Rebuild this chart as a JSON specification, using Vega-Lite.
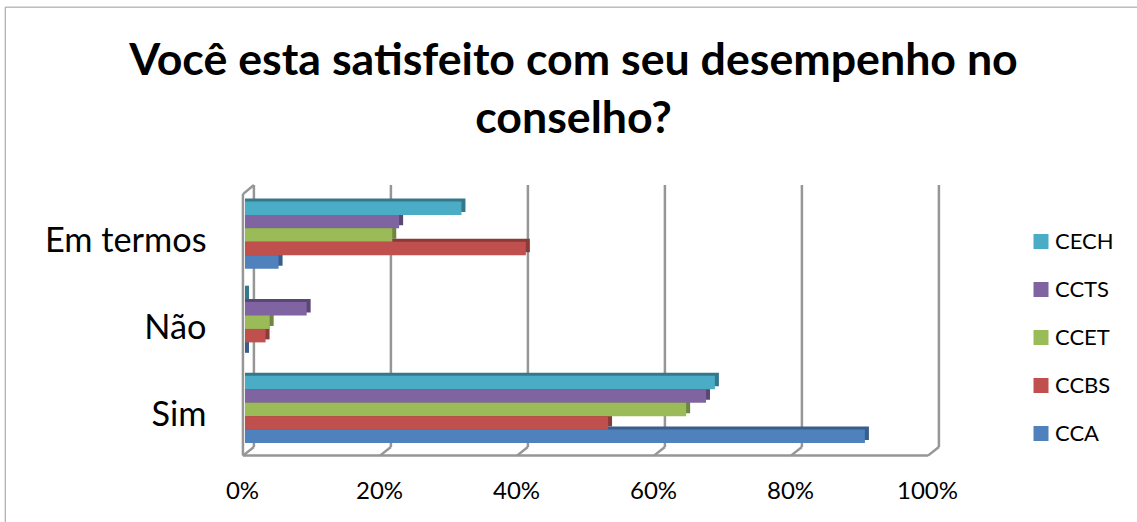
{"$schema":"https://vega.github.io/schema/vega-lite/v6.json","autosize":"none","width":685,"height":261.5,"padding":{"left":245,"top":191.5,"right":207,"bottom":69},"background":"white","config":{"view":{"stroke":null},"font":"Lato"},"title":{"text":["Você esta satisfeito com seu desempenho no","conselho?"],"font":"Lato","fontSize":44.7,"fontWeight":"bold","color":"black","anchor":"middle","frame":"group","dx":-14,"lineHeight":58,"offset":-136},"datasets":{"frame":[{"x":-35,"x2":-35,"y":-30,"y2":170.5,"k":"outer"},{"x":-35,"x2":130.5,"y":170.5,"y2":170.5,"k":"outer"},{"x":-0.3,"x2":-0.3,"y":-1,"y2":99,"k":"wall"},{"x":-0.3,"x2":99.7,"y":-1,"y2":-1,"k":"wall"},{"x":-0.3,"x2":1.3,"y":99,"y2":102.5,"k":"wall"},{"x":-0.3,"x2":1.3,"y":-1,"y2":2.3,"k":"wall"},{"x":19.7,"x2":21.3,"y":-1,"y2":2.3,"k":"wall"},{"x":39.7,"x2":41.3,"y":-1,"y2":2.3,"k":"wall"},{"x":59.7,"x2":61.3,"y":-1,"y2":2.3,"k":"wall"},{"x":79.7,"x2":81.3,"y":-1,"y2":2.3,"k":"wall"},{"x":99.7,"x2":101.3,"y":-1,"y2":2.3,"k":"wall"},{"x":1.3,"x2":1.3,"y":2.3,"y2":102.5,"k":"wall"},{"x":21.3,"x2":21.3,"y":2.3,"y2":102.5,"k":"wall"},{"x":41.3,"x2":41.3,"y":2.3,"y2":102.5,"k":"wall"},{"x":61.3,"x2":61.3,"y":2.3,"y2":102.5,"k":"wall"},{"x":81.3,"x2":81.3,"y":2.3,"y2":102.5,"k":"wall"},{"x":101.3,"x2":101.3,"y":2.3,"y2":102.5,"k":"wall"}],"bars":[{"resposta":"Em termos","centro":"CECH","valor":31.6},{"resposta":"Em termos","centro":"CCTS","valor":22.5},{"resposta":"Em termos","centro":"CCET","valor":21.5},{"resposta":"Em termos","centro":"CCBS","valor":41},{"resposta":"Em termos","centro":"CCA","valor":4.9},{"resposta":"Não","centro":"CECH","valor":0},{"resposta":"Não","centro":"CCTS","valor":9},{"resposta":"Não","centro":"CCET","valor":3.6},{"resposta":"Não","centro":"CCBS","valor":3},{"resposta":"Não","centro":"CCA","valor":0},{"resposta":"Sim","centro":"CECH","valor":68.6},{"resposta":"Sim","centro":"CCTS","valor":67.3},{"resposta":"Sim","centro":"CCET","valor":64.4},{"resposta":"Sim","centro":"CCBS","valor":53},{"resposta":"Sim","centro":"CCA","valor":90.5}]},"layer":[{"data":{"name":"frame"},"mark":{"type":"rule"},"encoding":{"x":{"field":"x","type":"quantitative","scale":{"domain":[0,100],"nice":false},"axis":{"values":[0,20,40,60,80,100],"labelExpr":"datum.value + '%'","grid":false,"domain":false,"ticks":false,"labelFlush":false,"labelFontSize":24,"labelColor":"black","labelFont":"Lato","labelPadding":26,"labelOffset":-3,"title":null}},"x2":{"field":"x2"},"y":{"field":"y","type":"quantitative","scale":{"domain":[0,100],"nice":false},"axis":null},"y2":{"field":"y2"},"color":{"field":"k","type":"nominal","scale":{"domain":["outer","wall"],"range":["#9a9a9a","#969696"]},"legend":null},"strokeWidth":{"field":"k","type":"nominal","scale":{"domain":["outer","wall"],"range":[1,2.5]},"legend":null}}},{"data":{"name":"bars"},"mark":{"type":"bar","xOffset":4,"x2Offset":0.01},"encoding":{"x":{"field":"valor","type":"quantitative"},"x2":{"datum":0},"y":{"field":"resposta","type":"nominal","sort":["Em termos","Não","Sim"],"scale":{"domain":["Em termos","Não","Sim"],"paddingInner":0.23,"paddingOuter":0.115,"range":[-3,258.5]},"axis":null},"yOffset":{"field":"centro","type":"nominal","sort":["CECH","CCTS","CCET","CCBS","CCA"],"scale":{"domain":["CECH","CCTS","CCET","CCBS","CCA"],"paddingInner":0}},"color":{"field":"centro","type":"nominal","scale":{"domain":["CECH","CCTS","CCET","CCBS","CCA"],"range":["#35788C","#5B4775","#6E8740","#8C3A38","#385E8C"]},"legend":null}}},{"data":{"name":"bars"},"mark":{"type":"bar"},"encoding":{"x":{"field":"valor","type":"quantitative"},"y":{"field":"resposta","type":"nominal","sort":["Em termos","Não","Sim"],"scale":{"domain":["Em termos","Não","Sim"],"paddingInner":0.23,"paddingOuter":0.115},"axis":{"domain":false,"ticks":false,"labelFontSize":34.3,"labelColor":"black","labelFont":"Lato","labelPadding":39,"labelOffset":7,"title":null}},"yOffset":{"field":"centro","type":"nominal","sort":["CECH","CCTS","CCET","CCBS","CCA"],"scale":{"domain":["CECH","CCTS","CCET","CCBS","CCA"],"paddingInner":0}},"color":{"field":"centro","type":"nominal","scale":{"domain":["CECH","CCTS","CCET","CCBS","CCA"],"range":["#4BACC6","#8064A2","#9BBB59","#C0504D","#4F81BD"]},"legend":{"orient":"none","legendX":785,"legendY":39,"title":null,"symbolType":"square","symbolSize":225,"symbolStrokeWidth":0,"symbolOpacity":1,"labelFontSize":22,"labelColor":"black","labelFont":"Lato","rowPadding":26,"labelOffset":3,"padding":0}}}}],"resolve":{"scale":{"y":"independent","color":"independent"}}}
